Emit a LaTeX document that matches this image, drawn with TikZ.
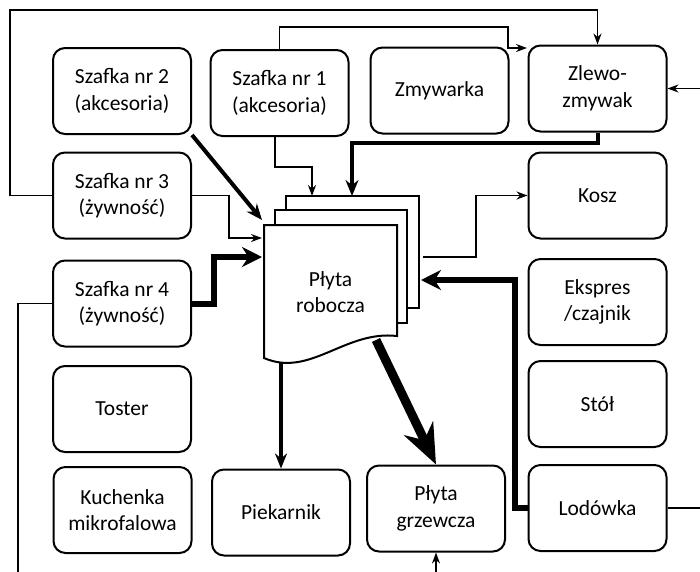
\documentclass[tikz,border=0pt]{standalone}
\usepackage{fontspec}
\setmainfont{Carlito}
\usetikzlibrary{arrows.meta}
\pgfdeclarelayer{back}
\pgfdeclarelayer{wires}
\pgfsetlayers{back,wires,main}
\begin{document}
\begin{tikzpicture}[x=1pt,y=-1pt,
  box/.style={draw, line width=2pt, rounded corners=12pt, fill=white,
    minimum width=138pt, minimum height=86pt, align=center, inner sep=0pt,
    font=\fontsize{21.5}{26.5}\selectfont},
  label/.style={align=center, inner sep=0pt, font=\fontsize{21.5}{26.5}\selectfont},
  page/.style={draw, line width=2pt, fill=white, line join=miter},
  plain/.style={line width=1.8pt},
  wire/.style={line width=1.8pt, -{Stealth[length=11pt,width=8pt]}},
  heavyA/.style={line width=4pt, -{Stealth[length=16pt,width=13pt]}},
  heavyB/.style={line width=6pt, -{Stealth[length=20pt,width=20pt]}},
  midA/.style={line width=4pt, -{Stealth[length=15pt,width=12pt]}},
  huge/.style={line width=9pt, -{Stealth[length=40pt,width=32pt]}}
]
\useasboundingbox (0,0) rectangle (700,571);
\begin{pgfonlayer}{back}
  \fill[white] (0,0) rectangle (700,571);
\end{pgfonlayer}

% appliance and cabinet boxes
\node[box] (s2)    at (122,91)     {Szafka nr 2\\(akcesoria)};
\node[box] (s1)    at (279.5,93)   {Szafka nr 1\\(akcesoria)};
\node[box] (zm)    at (439.5,90.5) {Zmywarka};
\node[box] (zl)    at (597.5,88.5) {Zlewo-\\zmywak};
\node[box] (s3)    at (122,195.5)  {Szafka nr 3\\(żywność)};
\node[box] (kosz)  at (597.5,195.5){Kosz};
\node[box] (s4)    at (122,303.5)  {Szafka nr 4\\(żywność)};
\node[box] (eks)   at (597.5,302)  {Ekspres\\/czajnik};
\node[box] (tost)  at (122,409)    {Toster};
\node[box] (stol)  at (597.5,404)  {Stół};
\node[box] (kuch)  at (122.5,510)  {Kuchenka\\mikrofalowa};
\node[box] (piek)  at (281,512.5)  {Piekarnik};
\node[box] (grz)   at (436,508.5)  {Płyta\\grzewcza};
\node[box] (lod)   at (597.5,508)  {Lodówka};

% stacked work-top sheets (multi-document)
\draw[page] (286,196) rectangle (419,308);
\draw[page] (275,210) rectangle (407,323);
\draw[page] (264,225) -- (397,225) -- (397,336)
  .. controls (345,330) and (310,378) .. (264,358) -- cycle;
\node[label] (doc) at (330.5,292) {Płyta\\robocza};

% connection points on the sheets and the open ends
\coordinate (loopL) at (10,10);
\coordinate (k1)    at (508,27);
\coordinate (zlin)  at (527,48);
\coordinate (p3in)  at (312,196);
\coordinate (p3in2) at (352,196);
\coordinate (in2)   at (262,220);
\coordinate (in3)   at (262,238);
\coordinate (in4)   at (262,257);
\coordinate (in10)  at (421,280);
\coordinate (out9)  at (423,257);
\coordinate (out13) at (281,360);
\coordinate (out14) at (376,340);
\coordinate (bl)    at (18,585);
\coordinate (rr)    at (715,508);
\coordinate (rin)   at (715,88.5);
\coordinate (bin)   at (436,585);

\begin{pgfonlayer}{wires}
  \draw[wire] (s3.west) -| (loopL) -| (zl.north);
  \draw[wire] (s1.north) |- (k1) |- (zlin);
  \draw[wire] ([xshift=-4.5pt]s1.south) -- ++(0,30) -| (p3in);
  \draw[heavyA] (s2.south east) -- (in2);
  \draw[wire] (s3.east) -- ++(37,0) |- (in3);
  \draw[heavyB] (s4.east) -- ++(22,0) |- (in4);
  \draw[plain] (s4.west) -| (bl);
  \draw[heavyA] (zl.south) -- ++(0,10) -| (p3in2);
  \draw[wire] (out9) -- ++(53,0) |- (kosz.west);
  \draw[heavyB] (lod.west) -- ++(-13,0) |- (in10);
  \draw[plain] (lod.east) -- (rr);
  \draw[wire] (rin) -- (zl.east);
  \draw[midA] (out13) -- (piek.north);
  \draw[huge] (out14) -- (grz.north);
  \draw[wire] (bin) -- (grz.south);
\end{pgfonlayer}
\end{tikzpicture}
\end{document}
